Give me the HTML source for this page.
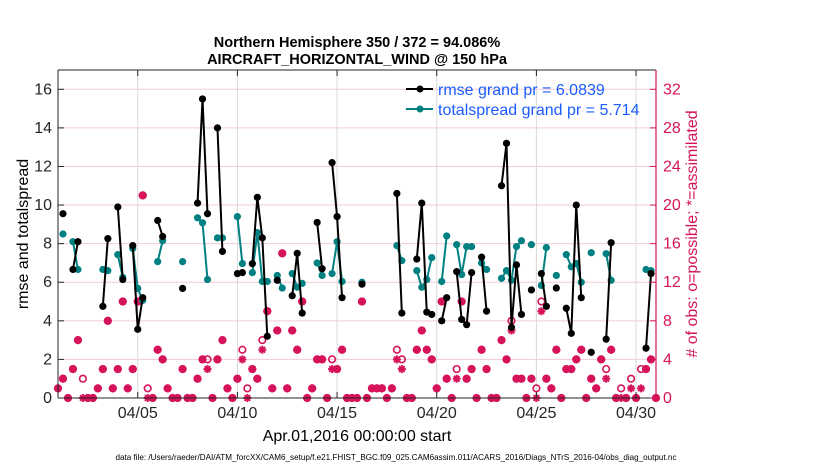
<!DOCTYPE html>
<html><head><meta charset="utf-8"><style>
html,body{margin:0;padding:0;background:#fff;}
svg{display:block;font-family:"Liberation Sans",sans-serif;}
</style></head><body>
<svg id="chart" width="830" height="470" viewBox="0 0 830 470" xmlns="http://www.w3.org/2000/svg">
<g id="grid"></g>
<g id="marks"></g>
<g id="axes"></g>
<text x="357" y="47" text-anchor="middle" font-size="14.5" font-weight="bold">Northern Hemisphere 350 / 372 = 94.086%</text>
<text x="357" y="64" text-anchor="middle" font-size="14.5" font-weight="bold">AIRCRAFT_HORIZONTAL_WIND @ 150 hPa</text>
<text transform="translate(28,234) rotate(-90)" text-anchor="middle" font-size="16">rmse and totalspread</text>
<text transform="translate(697,234) rotate(-90)" text-anchor="middle" font-size="16" fill="#d6135a"># of obs: o=possible; *=assimilated</text>
<text x="357" y="441" text-anchor="middle" font-size="16">Apr.01,2016 00:00:00 start</text>
<text x="396" y="460" text-anchor="middle" font-size="8.1" textLength="561" lengthAdjust="spacingAndGlyphs">data file: /Users/raeder/DAI/ATM_forcXX/CAM6_setup/f.e21.FHIST_BGC.f09_025.CAM6assim.011/ACARS_2016/Diags_NTrS_2016-04/obs_diag_output.nc</text>
<g>
<line x1="406" y1="89" x2="433" y2="89" stroke="#000" stroke-width="2"/>
<circle cx="420" cy="89" r="3.5" fill="#000"/>
<text x="438" y="95" font-size="16" fill="#1a5cff">rmse grand pr = 6.0839</text>
<line x1="406" y1="109" x2="433" y2="109" stroke="#008080" stroke-width="2"/>
<circle cx="420" cy="109" r="3.5" fill="#008080"/>
<text x="438" y="115" font-size="16" fill="#1a5cff">totalspread grand pr = 5.714</text>
</g>
</svg>
<script>
const xTickLabels = ["04/05","04/10","04/15","04/20","04/25","04/30"];
const xTickDays = [4,9,14,19,24,29];
const yTicks = [0,2,4,6,8,10,12,14,16];
const y2Ticks = [0,4,8,12,16,20,24,28,32];
const rmseSlot = [1,3,4,9,10,12,13,15,16,17,20,21,25,28,29,30,32,33,36,37,39,40,41,42,44,47,48,49,52,53,55,56,57,61,68,69,72,73,74,75,77,78,80,81,82,83,85,86,89,90,91,92,93,95,97,98,100,102,103,104,105,107,110,111,118,119];
const rmseVal = [9.55,6.66,8.1,4.75,8.26,9.9,6.14,7.9,3.56,5.2,9.2,8.37,5.68,10.1,15.5,9.55,14.0,7.6,6.45,6.5,6.96,10.4,8.3,3.2,6.1,5.3,7.5,4.4,9.1,6.7,12.2,9.4,5.2,5.9,10.6,4.4,7.2,10.1,4.45,4.33,4.0,5.2,6.55,4.07,3.8,6.5,7.3,4.5,11.0,13.2,3.66,6.9,4.33,5.6,6.45,4.75,5.7,4.65,3.35,10.0,5.2,2.37,3.05,8.05,2.58,6.45];
const spreadSlot = [1,3,4,9,10,12,13,15,16,17,20,21,25,28,29,30,32,33,36,37,39,40,41,42,44,45,47,48,49,52,53,55,56,57,61,68,69,72,73,74,75,77,78,80,81,82,83,85,86,89,90,91,92,93,95,97,98,100,102,103,104,105,107,110,111,118,119];
const spreadVal = [8.5,8.1,6.66,6.66,6.6,7.43,6.25,7.75,5.68,5.06,7.07,8.15,7.07,9.34,9.08,6.14,8.3,8.3,9.4,6.97,6.5,8.57,6.04,6.04,6.35,5.7,6.45,5.74,5.94,7.0,6.35,6.45,8.1,6.04,6.0,7.9,7.12,6.6,5.74,6.14,7.28,6.04,8.4,7.95,6.4,7.85,7.85,7.0,6.66,6.2,6.6,6.1,7.85,8.15,7.95,5.83,7.8,6.35,7.43,6.8,6.97,6.0,7.53,7.48,6.1,6.66,6.6];
const nPossible = [1,2,0,3,6,2,0,0,1,3,8,1,3,10,1,3,10,21,1,0,5,4,1,0,0,3,0,0,2,4,4,0,4,6,1,0,2,5,1,3,2,6,9,1,7,15,1,7,5,10,0,1,4,4,0,4,3,5,0,0,0,10,0,1,1,1,0,1,5,4,0,0,5,7,5,4,1,10,2,0,3,10,2,3,0,5,3,0,0,6,4,8,2,2,0,2,1,10,2,1,5,0,3,3,4,5,0,2,1,4,3,5,0,1,0,2,0,3,3,4,0];
const nAssim = [1,2,0,3,6,0,0,0,1,3,8,1,3,10,1,3,10,21,0,0,5,4,1,0,0,3,0,0,2,4,3,0,4,6,1,0,2,4,0,3,2,5,9,1,7,15,1,7,5,10,0,1,4,4,0,3,3,5,0,0,0,10,0,1,1,1,0,1,4,3,0,0,5,7,5,4,1,10,2,0,2,10,2,3,0,5,3,0,0,6,4,7,2,2,0,2,0,9,2,1,5,0,3,3,4,5,0,2,1,4,2,5,0,0,0,1,0,1,3,4,0];

const NS="http://www.w3.org/2000/svg";
const L=58,R=656,T=70,B=398;
const X=d=>L+(d/30)*(R-L);
const XS=k=>X(k/4);
const Y=v=>B-v*(B-T)/17;
const Y2=c=>B-c*(B-T)/34;
const PINK="#d6135a";
function mk(tag,attrs,parent){const e=document.createElementNS(NS,tag);for(const k in attrs)e.setAttribute(k,attrs[k]);parent.appendChild(e);return e;}
const grid=document.getElementById('grid'),marks=document.getElementById('marks'),axes=document.getElementById('axes');
mk('rect',{x:L,y:T,width:R-L,height:B-T,fill:'#fff'},grid);
yTicks.forEach(v=>{const l=mk('line',{x1:L,x2:R,y1:Y(v),y2:Y(v),stroke:'#f3c9da','stroke-width':1},grid);

});
xTickDays.forEach(d=>{const l=mk('line',{x1:X(d),x2:X(d),y1:T,y2:B,stroke:'#d9d9d9','stroke-width':1},grid);

});
function star(cx,cy,g){const r=4;for(let a=0;a<4;a++){const an=a*Math.PI/4;mk('line',{x1:cx-r*Math.cos(an),y1:cy-r*Math.sin(an),x2:cx+r*Math.cos(an),y2:cy+r*Math.sin(an),stroke:PINK,'stroke-width':2},g);}}
nPossible.forEach((p,k)=>{const g=mk('g',{},marks);


mk('circle',{cx:XS(k),cy:Y2(p),r:3.3,fill:'none',stroke:PINK,'stroke-width':1.6},g);
star(XS(k),Y2(nAssim[k]),g);});
function series(slots,vals,color,name){
  let seg=[];const segs=[];
  slots.forEach((s,i)=>{if(i>0&&s!==slots[i-1]+1){segs.push(seg);seg=[];}seg.push([XS(s),Y(vals[i])]);});
  segs.push(seg);
  segs.forEach(sg=>{if(sg.length>1){const p=mk('polyline',{points:sg.map(q=>q.join(',')).join(' '),fill:'none',stroke:color,'stroke-width':2},marks);
  
  }});
  slots.forEach((s,i)=>{const c=mk('circle',{cx:XS(s),cy:Y(vals[i]),r:3.6,fill:color},marks);
  
  });
}
series(spreadSlot,spreadVal,'#008080','totalspread');
series(rmseSlot,rmseVal,'#000','rmse');
mk('line',{x1:L,y1:T,x2:R,y2:T,stroke:'#262626','stroke-width':1},axes);
mk('line',{x1:L,y1:B,x2:R,y2:B,stroke:'#262626','stroke-width':1},axes);
mk('line',{x1:L,y1:T,x2:L,y2:B,stroke:'#262626','stroke-width':1},axes);
mk('line',{x1:R,y1:T,x2:R,y2:B,stroke:PINK,'stroke-width':1.2},axes);
yTicks.forEach(v=>{mk('line',{x1:L,x2:L+6,y1:Y(v),y2:Y(v),stroke:'#262626'},axes);
const t=mk('text',{x:L-6,y:Y(v)+5,'text-anchor':'end','font-size':16,fill:'#262626'},axes);t.textContent=v;

});
y2Ticks.forEach(c=>{mk('line',{x1:R-6,x2:R,y1:Y2(c),y2:Y2(c),stroke:PINK},axes);
const t=mk('text',{x:R+7,y:Y2(c)+5,'font-size':16,fill:PINK},axes);t.textContent=c;

});
xTickDays.forEach((d,i)=>{mk('line',{x1:X(d),x2:X(d),y1:B,y2:B-6,stroke:'#262626'},axes);mk('line',{x1:X(d),x2:X(d),y1:T,y2:T+6,stroke:'#262626'},axes);
const t=mk('text',{x:X(d),y:B+20,'text-anchor':'middle','font-size':16,fill:'#262626'},axes);t.textContent=xTickLabels[i];

});
</script>
</body></html>
